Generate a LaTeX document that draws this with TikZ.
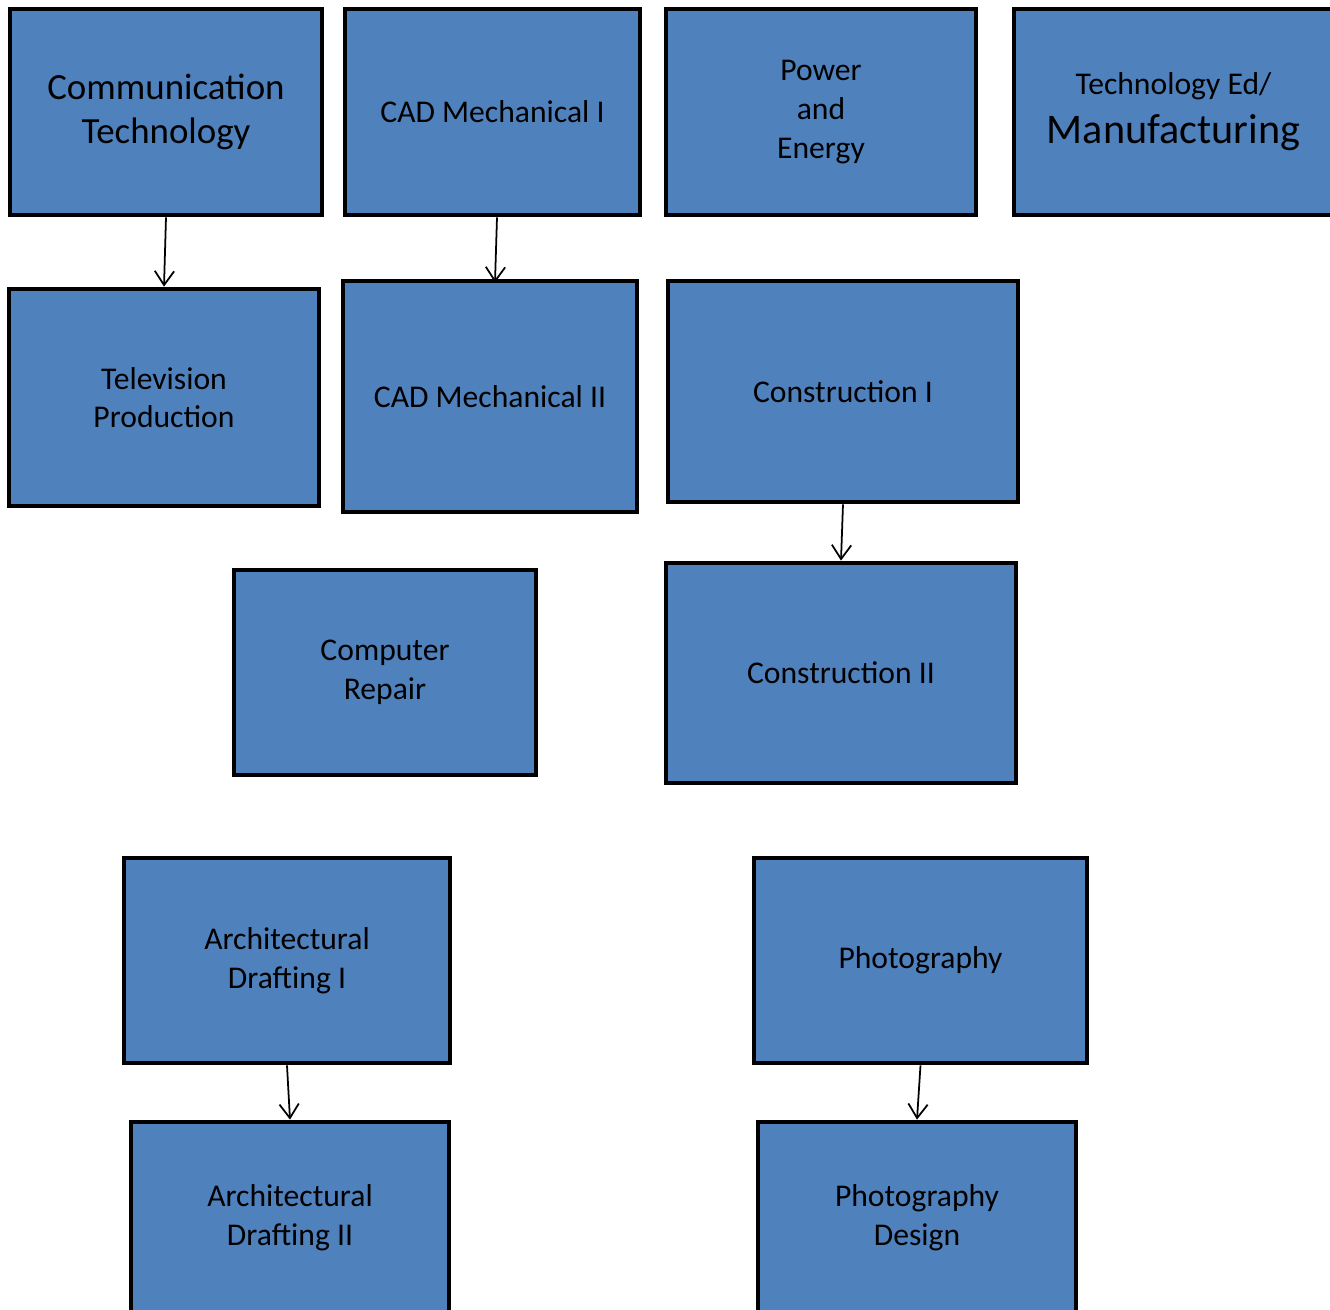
\documentclass[tikz,border=0pt]{standalone}
\usepackage{fontspec}
\setmainfont{Carlito}
\usepackage{xcolor}
\usetikzlibrary{arrows.meta}
\definecolor{boxblue}{HTML}{4F81BD}

\begin{document}
\begin{tikzpicture}[x=0.02cm, y=-0.02cm,
        course/.style={draw, fill=boxblue, line width=2.7pt, align=center, inner sep=0pt,
            font=\fontsize{18}{22}\selectfont},
        link/.style={line width=1pt, -{Straight Barb[length=8pt,width=11pt]}}]
        \clip (0,0) rectangle (1330,1310);

        % Первый ряд
        \node[course, minimum width=6.24cm, minimum height=4.12cm, font=\fontsize{21}{25.5}\selectfont] (comm) at (166,112) {Communication\\Technology};
        \node[course, minimum width=5.9cm,  minimum height=4.12cm] (cadA)  at (492.5,112) {CAD Mechanical I};
        \node[course, minimum width=6.2cm,  minimum height=4.12cm] (power) at (821,112)   {Power\\and\\Energy};
        \node[course, minimum width=6.38cm, minimum height=4.12cm] (teched) at (1173.5,112)
            {Technology Ed/\\[6pt]{\fontsize{24}{26}\selectfont Manufacturing}};

        % Второй ряд
        \node[course, minimum width=6.2cm,  minimum height=4.34cm] (tv)    at (164,397.5) {Television\\Production};
        \node[course, minimum width=5.88cm, minimum height=4.62cm] (cadB)  at (490,396.5) {CAD Mechanical II};
        \node[course, minimum width=7.0cm,  minimum height=4.42cm] (consA) at (843,391.5) {Construction I};

        % Третий ряд
        \node[course, minimum width=6.04cm, minimum height=4.1cm]  (repair) at (385,672.5) {Computer\\Repair};
        \node[course, minimum width=7.0cm,  minimum height=4.4cm]  (consB)  at (841,673)   {Construction II};

        % Нижние ряды
        \node[course, minimum width=6.52cm, minimum height=4.1cm]  (archA)  at (287,960.5)   {Architectural\\Drafting I};
        \node[course, minimum width=6.66cm, minimum height=4.1cm]  (photo)  at (920.5,960.5) {Photography};
        \node[course, minimum width=6.36cm, minimum height=3.82cm] (archB)  at (290,1217.5)  {Architectural\\Drafting II};
        \node[course, minimum width=6.36cm, minimum height=3.82cm] (photoD) at (917,1217.5)  {Photography\\Design};

        % Стрелки
        \draw[link] (comm.south) -- (tv.north);
        \draw[link] ([xshift=0.09cm]cadA.south) -- ([xshift=0.1cm,yshift=-0.08cm]cadB.north);
        \draw[link] (consA.south) -- (consB.north);
        \draw[link] (archA.south) -- (archB.north);
        \draw[link] (photo.south) -- (photoD.north);
    \end{tikzpicture}
\end{document}
